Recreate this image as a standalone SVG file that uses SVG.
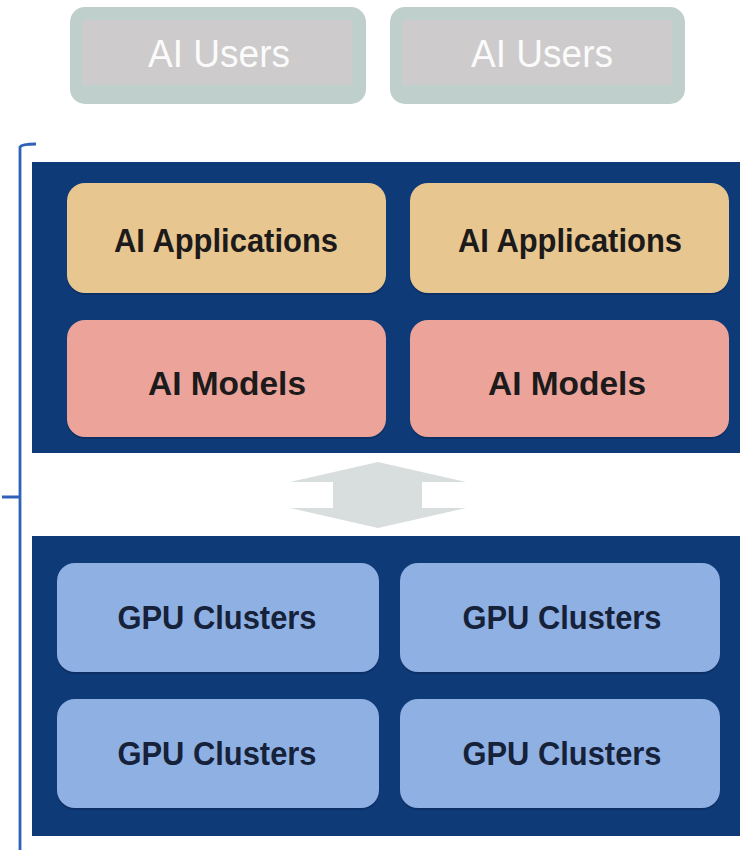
<svg xmlns="http://www.w3.org/2000/svg" width="740" height="850" viewBox="0 0 740 850">
<style>
.outer{fill:#bfcfcb}
.inner{fill:#cdcbcc}
.user{font-family:"Liberation Sans",Arial,sans-serif;font-size:38px;fill:#fbfbfb;text-anchor:middle}
.panel{fill:#0f3a78}
.app{fill:#e8c690}
.model{fill:#eba39a}
.gpu{fill:#8fb0e3}
.lbl{font-family:"Liberation Sans",Arial,sans-serif;font-weight:bold;font-size:34px;fill:#1c1a1a;text-anchor:middle}
.glbl{font-family:"Liberation Sans",Arial,sans-serif;font-weight:bold;font-size:34px;fill:#16213a;text-anchor:middle}
.shadow{fill:#0a2a5a;opacity:0.6}
</style>
<rect width="740" height="850" fill="#ffffff"/>
<g id="user1"><rect class="outer" x="70" y="7" width="296" height="97" rx="15"/><rect class="inner" x="82" y="20" width="270" height="65"/><text class="user" x="219" y="67" textLength="142" lengthAdjust="spacingAndGlyphs">AI Users</text></g>
<g id="user2"><rect class="outer" x="390" y="7" width="295" height="97" rx="15"/><rect class="inner" x="402" y="20" width="270" height="65"/><text class="user" x="542" y="67" textLength="142" lengthAdjust="spacingAndGlyphs">AI Users</text></g>
<g id="bracket"><path d="M36 144 Q22 144 20 147 L20 850 M2 497 L20 497" fill="none" stroke="#2f62b8" stroke-width="2.8"/></g>
<g id="top-panel"><rect class="panel" x="32" y="162" width="708" height="291"/></g>
<g id="app1"><rect class="shadow" x="67" y="185" width="319" height="110" rx="18"/><rect class="app" x="67" y="183" width="319" height="110" rx="18"/><text class="lbl" x="226" y="252" textLength="224" lengthAdjust="spacingAndGlyphs">AI Applications</text></g>
<g id="app2"><rect class="shadow" x="410" y="185" width="319" height="110" rx="18"/><rect class="app" x="410" y="183" width="319" height="110" rx="18"/><text class="lbl" x="570" y="252" textLength="224" lengthAdjust="spacingAndGlyphs">AI Applications</text></g>
<g id="model1"><rect class="shadow" x="67" y="322" width="319" height="117" rx="18"/><rect class="model" x="67" y="320" width="319" height="117" rx="18"/><text class="lbl" x="227" y="395" textLength="158" lengthAdjust="spacingAndGlyphs">AI Models</text></g>
<g id="model2"><rect class="shadow" x="410" y="322" width="319" height="117" rx="18"/><rect class="model" x="410" y="320" width="319" height="117" rx="18"/><text class="lbl" x="567" y="395" textLength="158" lengthAdjust="spacingAndGlyphs">AI Models</text></g>
<g id="connectors"><polygon points="378,462 466,482 422,482 422,508 466,508 378,528 290,508 333,508 333,482 290,482" fill="#d8dedd"/></g>
<g id="bottom-panel"><rect class="panel" x="32" y="536" width="708" height="300"/></g>
<g id="gpu1"><rect class="shadow" x="57" y="565" width="322" height="109" rx="18"/><rect class="gpu" x="57" y="563" width="322" height="109" rx="18"/><text class="glbl" x="217" y="629" textLength="199" lengthAdjust="spacingAndGlyphs">GPU Clusters</text></g>
<g id="gpu2"><rect class="shadow" x="400" y="565" width="320" height="109" rx="18"/><rect class="gpu" x="400" y="563" width="320" height="109" rx="18"/><text class="glbl" x="562" y="629" textLength="199" lengthAdjust="spacingAndGlyphs">GPU Clusters</text></g>
<g id="gpu3"><rect class="shadow" x="57" y="701" width="322" height="109" rx="18"/><rect class="gpu" x="57" y="699" width="322" height="109" rx="18"/><text class="glbl" x="217" y="765" textLength="199" lengthAdjust="spacingAndGlyphs">GPU Clusters</text></g>
<g id="gpu4"><rect class="shadow" x="400" y="701" width="320" height="109" rx="18"/><rect class="gpu" x="400" y="699" width="320" height="109" rx="18"/><text class="glbl" x="562" y="765" textLength="199" lengthAdjust="spacingAndGlyphs">GPU Clusters</text></g>
</svg>
